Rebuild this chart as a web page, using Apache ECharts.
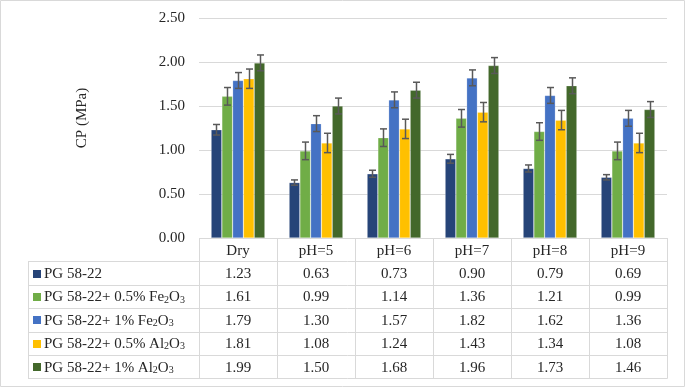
<!DOCTYPE html>
<html><head><meta charset="utf-8">
<script src="https://cdn.jsdelivr.net/npm/echarts@6/dist/echarts.min.js"></script>
<style>html,body{margin:0;padding:0;background:#fff}#c{width:685px;height:388px}</style>
</head><body><div id="c"></div>
<script>
const categories = ['Dry','pH=5','pH=6','pH=7','pH=8','pH=9'];
const seriesNames = ['PG 58-22','PG 58-22+ 0.5% Fe\u2082O\u2083','PG 58-22+ 1% Fe\u2082O\u2083','PG 58-22+ 0.5% Al\u2082O\u2083','PG 58-22+ 1% Al\u2082O\u2083'];
const pg    = [1.23,0.63,0.73,0.90,0.79,0.69];
const fe05  = [1.61,0.99,1.14,1.36,1.21,0.99];
const fe1   = [1.79,1.30,1.57,1.82,1.62,1.36];
const al05  = [1.81,1.08,1.24,1.43,1.34,1.08];
const al1   = [1.99,1.50,1.68,1.96,1.73,1.46];
const errPg   = [0.06,0.03,0.04,0.05,0.04,0.03];
const errFe05 = [0.10,0.10,0.10,0.10,0.10,0.10];
const errFe1  = [0.09,0.09,0.09,0.09,0.09,0.09];
const errAl05 = [0.11,0.11,0.11,0.11,0.11,0.11];
const errAl1  = [0.09,0.09,0.09,0.09,0.09,0.09];
const yTicks = [0,0.5,1.0,1.5,2.0,2.5];

const values = [pg, fe05, fe1, al05, al1];
const errors = [errPg, errFe05, errFe1, errAl05, errAl1];
const colors = ['#264478','#70AD47','#4472C4','#FFC000','#43682B'];
const W = 685, H = 388;
const gridL = 199, gridR = 18, gridT = 18, gridB = 150;
const gapRatio = 0.31;
const font = '"Liberation Serif","Times New Roman",serif';
const txt = '#262626';
const lineC = '#d9d9d9';

const chart = echarts.init(document.getElementById('c'), null, {renderer:'canvas'});
const series = [];
values.forEach((vals, i) => {
  series.push({
    type:'bar', name:seriesNames[i], data:vals, barGap:'0%', barCategoryGap:(gapRatio*100)+'%',
    itemStyle:{color:colors[i], borderColor:'rgba(255,255,255,0.35)', borderWidth:0.6}, z:2
  });
});
values.forEach((vals, si) => {
  series.push({
    type:'custom', z:5, silent:true,
    data: vals.map((v, k) => [k, v, errors[si][k]]),
    renderItem:(params, api) => {
      const x = api.value(0), v = api.value(1), e = api.value(2);
      const band = api.size([1,0])[0];
      const bw = band*(1-gapRatio)/5;
      const off = (si-2)*bw;
      const t = api.coord([x, v+e]), b = api.coord([x, v-e]);
      const cx = Math.round(t[0]+off)+0.5, cap = 3.5;
      const st = {stroke:'#595959', lineWidth:1.5};
      return {type:'group', children:[
        {type:'line', shape:{x1:cx,y1:t[1],x2:cx,y2:b[1]}, style:st},
        {type:'line', shape:{x1:cx-cap,y1:t[1],x2:cx+cap,y2:t[1]}, style:st},
        {type:'line', shape:{x1:cx-cap,y1:b[1],x2:cx+cap,y2:b[1]}, style:st}
      ]};
    }
  });
});

// convert unicode subscripts to rich-text tokens
const toRich = s => s.replace(/\u2082/g,'{sub|2}').replace(/\u2083/g,'{sub|3}');

const g = [];
const plotW = W - gridL - gridR;
const colW = plotW / categories.length;
const rowTop = H - gridB, rowH = 23.4;
const tableL = 28;
const px = v => Math.round(v)+0.5;
g.push({type:'rect', shape:{x:0.5,y:0.5,width:W-1,height:H-2}, style:{fill:'none',stroke:lineC,lineWidth:1}});
for (let r = 0; r <= seriesNames.length+1; r++) {
  const y = px(rowTop + r*rowH);
  const x1 = r >= 1 ? tableL : gridL;
  g.push({type:'line', shape:{x1:x1, y1:y, x2:px(gridL+plotW), y2:y}, style:{stroke:lineC,lineWidth:1}});
}
for (let c = 0; c <= categories.length; c++) {
  const x = px(gridL + c*colW);
  g.push({type:'line', shape:{x1:x, y1:rowTop, x2:x, y2:px(rowTop+(seriesNames.length+1)*rowH)}, style:{stroke:lineC,lineWidth:1}});
}
g.push({type:'line', shape:{x1:px(tableL), y1:px(rowTop+rowH), x2:px(tableL), y2:px(rowTop+(seriesNames.length+1)*rowH)}, style:{stroke:lineC,lineWidth:1}});
categories.forEach((c, k) => {
  g.push({type:'text', x:gridL+(k+0.5)*colW, y:rowTop+rowH/2+1, style:{text:c, font:'15px '+font, fill:txt, align:'center', verticalAlign:'middle'}});
});
seriesNames.forEach((n, i) => {
  const cy = rowTop + (i+1.5)*rowH + 1;
  g.push({type:'rect', shape:{x:33, y:Math.round(cy-4.5), width:8, height:8}, style:{fill:colors[i]}});
  g.push({type:'text', x:44, y:cy, style:{text:toRich(n), fontFamily:font, fontSize:15, fill:txt, align:'left', verticalAlign:'middle',
    rich:{sub:{fontFamily:font, fontSize:10, fill:txt, verticalAlign:'bottom', padding:[5,0,0,0]}}}});
  values[i].forEach((v, k) => {
    g.push({type:'text', x:gridL+(k+0.5)*colW, y:cy, style:{text:v.toFixed(2), font:'15px '+font, fill:txt, align:'center', verticalAlign:'middle'}});
  });
});
g.push({type:'text', x:82, y:118, rotation:Math.PI/2, style:{text:'CP (MPa)', font:'15px '+font, fill:txt, align:'center', verticalAlign:'middle'}});

chart.setOption({
  animation:false,
  grid:{left:gridL, right:gridR, top:gridT, bottom:gridB, containLabel:false},
  xAxis:{type:'category', data:categories, axisLine:{show:false}, axisTick:{show:false}, axisLabel:{show:false}},
  yAxis:{type:'value', min:yTicks[0], max:yTicks[yTicks.length-1], interval:0.5,
    axisLine:{show:false}, axisTick:{show:false},
    axisLabel:{formatter:v=>v.toFixed(2), fontFamily:font, fontSize:15, color:txt, margin:14},
    splitLine:{lineStyle:{color:lineC, width:1}}},
  series:series,
  graphic:g
});
</script></body></html>
